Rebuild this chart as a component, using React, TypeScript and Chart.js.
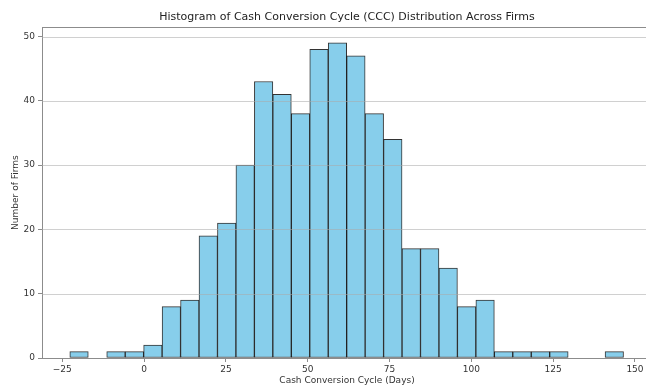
import React, { useEffect, useRef } from "react";
import { Chart, registerables } from "chart.js";

Chart.register(...registerables);

// Histogram bins (30 bins)
const binStart = -22.7;
const binWidth = 5.64;
const counts = [1, 0, 1, 1, 2, 8, 9, 19, 21, 30, 43, 41, 38, 48, 49, 47, 38, 34, 17, 17, 14, 8, 9, 1, 1, 1, 1, 0, 0, 1];
const xTicks = [-25, 0, 25, 50, 75, 100, 125, 150];
const yTicks = [0, 10, 20, 30, 40, 50];
const xMin = -31.2;
const xMax = 155.2;
const yMax = 51.45;

const titleText = "Histogram of Cash Conversion Cycle (CCC) Distribution Across Firms";
const xLabel = "Cash Conversion Cycle (Days)";
const yLabel = "Number of Firms";

const FONT = "'DejaVu Sans', sans-serif";
const SPINE = "#8c8c8c";

const overlayPlugin = {
  id: "overlay",
  afterDatasetsDraw(chart: any) {
    const { ctx, chartArea } = chart;
    const { left, right, top } = chartArea;
    const y = chart.scales.y;
    ctx.save();
    ctx.strokeStyle = "rgba(170,170,170,0.55)";
    ctx.lineWidth = 1;
    yTicks.forEach((v) => {
      if (v === 0) return;
      const py = Math.round(y.getPixelForValue(v)) + 0.5;
      ctx.beginPath();
      ctx.moveTo(left, py);
      ctx.lineTo(right, py);
      ctx.stroke();
    });
    ctx.strokeStyle = SPINE;
    ctx.beginPath();
    ctx.moveTo(left, Math.round(top) + 0.5);
    ctx.lineTo(right, Math.round(top) + 0.5);
    ctx.stroke();
    ctx.restore();
  },
};

export default function App() {
  const ref = useRef<HTMLCanvasElement | null>(null);
  useEffect(() => {
    if (!ref.current) return;
    const data = counts.map((c, i) => ({ x: binStart + binWidth * (i + 0.5), y: c > 0 ? c : null }));
    const chart = new Chart(ref.current, {
      type: "bar",
      data: {
        datasets: [
          {
            data: data as any,
            backgroundColor: "#87CEEB",
            borderColor: "rgba(0,0,0,0.8)",
            borderWidth: 1,
            borderSkipped: false,
            barPercentage: 1,
            categoryPercentage: 1,
          },
        ],
      },
      plugins: [overlayPlugin],
      options: {
        animation: false,
        responsive: false,
        layout: { padding: { left: 0, right: 0, top: 0, bottom: 0 } },
        plugins: {
          legend: { display: false },
          tooltip: { enabled: false },
          title: {
            display: true,
            text: titleText,
            fullSize: false,
            color: "#222",
            font: { family: FONT, size: 11, weight: "normal" },
            padding: { top: 11, bottom: 3 },
          },
        },
        scales: {
          x: {
            type: "linear",
            min: xMin,
            max: xMax,
            offset: false,
            afterBuildTicks: (s: any) => {
              s.ticks = xTicks.map((v) => ({ value: v }));
            },
            afterFit: (s: any) => {
              s.height = 32;
            },
            grid: {
              offset: false,
              drawOnChartArea: false,
              drawTicks: true,
              tickLength: 4,
              tickColor: SPINE,
            },
            border: { display: true, color: SPINE, width: 1 },
            ticks: {
              color: "#333",
              font: { family: FONT, size: 9 },
              padding: 2,
              maxRotation: 0,
              callback: (v: any) => (Number(v) < 0 ? "\u2212" + Math.abs(Number(v)) : String(v)),
            },
            title: {
              display: true,
              text: xLabel,
              color: "#333",
              font: { family: FONT, size: 9 },
              padding: { top: 2, bottom: 4 },
            },
          },
          y: {
            type: "linear",
            min: 0,
            max: yMax,
            afterBuildTicks: (s: any) => {
              s.ticks = yTicks.map((v) => ({ value: v }));
            },
            afterFit: (s: any) => {
              s.width = 42;
            },
            grid: {
              drawOnChartArea: false,
              drawTicks: true,
              tickLength: 4,
              tickColor: SPINE,
            },
            border: { display: true, color: SPINE, width: 1 },
            ticks: {
              color: "#333",
              font: { family: FONT, size: 9 },
              padding: 3,
            },
            title: {
              display: true,
              text: yLabel,
              color: "#333",
              font: { family: FONT, size: 9 },
              padding: { top: 10, bottom: 0 },
            },
          },
        },
      },
    });
    return () => chart.destroy();
  }, []);

  return (
    <div style={{ position: "fixed", left: 0, top: 0, width: 646, height: 390, overflow: "hidden", background: "#fff" }}>
      <canvas ref={ref} width={652} height={390} style={{ width: 652, height: 390, display: "block" }} />
    </div>
  );
}
